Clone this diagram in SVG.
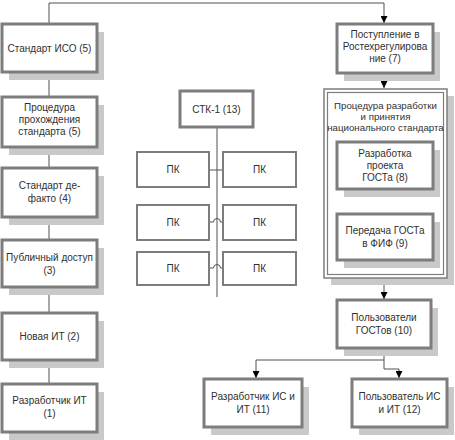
<svg xmlns="http://www.w3.org/2000/svg" width="455" height="440" viewBox="0 0 455 440" xml:space="preserve">
<defs>
<style>
.sh{fill:#c9c9c9;stroke:none}
.bx{fill:#fff;stroke:#7d7d7d;stroke-width:3}
.bt{fill:#fff;stroke:#7d7d7d;stroke-width:2}
.t{font-family:"Liberation Sans",Arial,sans-serif;font-size:10px;fill:#303030;text-anchor:middle}
.c{fill:none;stroke:#505050;stroke-width:1}
</style>
<marker id="ar" markerUnits="userSpaceOnUse" markerWidth="8" markerHeight="7" refX="7" refY="3.5" orient="auto">
<path d="M0,0 L7,3.5 L0,7 z" fill="#000"/>
</marker>
</defs>
<rect width="455" height="440" fill="#fff"/>

<g id="connectors">
<path class="c" d="M49,24 V3 H384 V23" marker-end="url(#ar)"/>
<path class="c" d="M49,97 V73" marker-end="url(#ar)"/>
<path class="c" d="M49,168 V148" marker-end="url(#ar)"/>
<path class="c" d="M49,240 V218" marker-end="url(#ar)"/>
<path class="c" d="M49,313 V288" marker-end="url(#ar)"/>
<path class="c" d="M49,384 V361" marker-end="url(#ar)"/>
<path class="c" d="M384,73 V88" marker-end="url(#ar)"/>
<path class="c" d="M384,278 V299" marker-end="url(#ar)"/>
<path class="c" d="M384,348 V360 H256 V378" marker-end="url(#ar)"/>
<path class="c" d="M384,360 V369 H399 V378" marker-end="url(#ar)"/>
<path class="c" d="M217,127 V297"/>
<path class="c" d="M209,170 H223"/>
<path class="c" d="M209,222 H213.5 A3.5,3.5 0 0 1 220.5,222 H223"/>
<path class="c" d="M209,268 H213.5 A3.5,3.5 0 0 1 220.5,268 H223"/>
</g>

<g id="n5iso">
<rect class="sh" x="9" y="32" width="95" height="48"/>
<rect class="bx" x="2" y="24" width="95" height="48"/>
<text class="t" x="49.5" y="51.5">Стандарт ИСО  (5)</text>
</g>
<g id="n5proc">
<rect class="sh" x="9" y="105" width="95" height="50"/>
<rect class="bx" x="2" y="97" width="95" height="50"/>
<text class="t" x="49.5" y="111">Процедура</text>
<text class="t" x="49.5" y="123">прохождения</text>
<text class="t" x="49.5" y="135">стандарта  (5)</text>
</g>
<g id="n4">
<rect class="sh" x="9" y="176" width="95" height="49"/>
<rect class="bx" x="2" y="168" width="95" height="49"/>
<text class="t" x="49.5" y="189">Стандарт де-</text>
<text class="t" x="49.5" y="202">факто (4)</text>
</g>
<g id="n3">
<rect class="sh" x="9" y="248" width="95" height="47"/>
<rect class="bx" x="2" y="240" width="95" height="47"/>
<text class="t" x="49.5" y="261">Публичный доступ</text>
<text class="t" x="49.5" y="274">(3)</text>
</g>
<g id="n2">
<rect class="sh" x="9" y="321" width="95" height="47"/>
<rect class="bx" x="2" y="313" width="95" height="47"/>
<text class="t" x="49.5" y="340">Новая ИТ (2)</text>
</g>
<g id="n1">
<rect class="sh" x="9" y="392" width="95" height="48"/>
<rect class="bx" x="2" y="384" width="95" height="48"/>
<text class="t" x="49.5" y="404">Разработчик ИТ</text>
<text class="t" x="49.5" y="417">(1)</text>
</g>

<g id="n13">
<rect class="bx" x="180" y="91" width="73" height="36"/>
<text class="t" x="216.5" y="112.5">СТК-1 (13)</text>
</g>
<g id="pk1l"><rect class="bt" x="137" y="152" width="72" height="35"/><text class="t" x="173" y="173">ПК</text></g>
<g id="pk1r"><rect class="bt" x="223" y="152" width="73" height="35"/><text class="t" x="259.5" y="173">ПК</text></g>
<g id="pk2l"><rect class="bt" x="137" y="205" width="72" height="35"/><text class="t" x="173" y="226">ПК</text></g>
<g id="pk2r"><rect class="bt" x="223" y="205" width="73" height="35"/><text class="t" x="259.5" y="226">ПК</text></g>
<g id="pk3l"><rect class="bt" x="137" y="252" width="72" height="33"/><text class="t" x="173" y="272">ПК</text></g>
<g id="pk3r"><rect class="bt" x="223" y="252" width="73" height="33"/><text class="t" x="259.5" y="272">ПК</text></g>

<g id="n7">
<rect class="sh" x="344" y="32" width="96" height="49"/>
<rect class="bx" x="337" y="24" width="96" height="49"/>
<text class="t" x="385" y="38">Поступление в</text>
<text class="t" x="385" y="50">Ростехрегулирова</text>
<text class="t" x="385" y="62">ние  (7)</text>
</g>
<g id="nproc">
<rect class="sh" x="331" y="96" width="123" height="189"/>
<rect fill="#fff" stroke="#7d7d7d" stroke-width="1.5" x="324" y="89" width="123" height="189"/>
<rect fill="none" stroke="#7d7d7d" stroke-width="1.2" x="327.5" y="92.5" width="116" height="182"/>
<text class="t" x="385.5" y="109" style="font-size:9.7px">Процедура разработки</text>
<text class="t" x="385.5" y="120" style="font-size:9.7px">и принятия</text>
<text class="t" x="385.5" y="131" style="font-size:9.7px">национального стандарта</text>
</g>
<g id="n8">
<rect class="sh" x="344" y="150" width="96" height="47"/>
<rect class="bx" x="337" y="142" width="96" height="47"/>
<text class="t" x="385" y="157">Разработка</text>
<text class="t" x="385" y="169">проекта</text>
<text class="t" x="385" y="181">ГОСТа (8)</text>
</g>
<g id="n9">
<rect class="sh" x="344" y="222" width="96" height="46"/>
<rect class="bx" x="337" y="214" width="96" height="46"/>
<text class="t" x="385" y="234">Передача ГОСТа</text>
<text class="t" x="385" y="247">в ФИФ  (9)</text>
</g>
<g id="n10">
<rect class="sh" x="344" y="308" width="94" height="48"/>
<rect class="bx" x="337" y="300" width="94" height="48"/>
<text class="t" x="384" y="321">Пользователи</text>
<text class="t" x="384" y="334">ГОСТов (10)</text>
</g>
<g id="n11">
<rect class="sh" x="211" y="387" width="98" height="48"/>
<rect class="bx" x="204" y="379" width="98" height="48"/>
<text class="t" x="253" y="400">Разработчик ИС и</text>
<text class="t" x="253" y="413">ИТ (11)</text>
</g>
<g id="n12">
<rect class="sh" x="359" y="387" width="95" height="48"/>
<rect class="bx" x="352" y="379" width="95" height="48"/>
<text class="t" x="399.5" y="400">Пользователь ИС</text>
<text class="t" x="399.5" y="413">и ИТ (12)</text>
</g>
</svg>
